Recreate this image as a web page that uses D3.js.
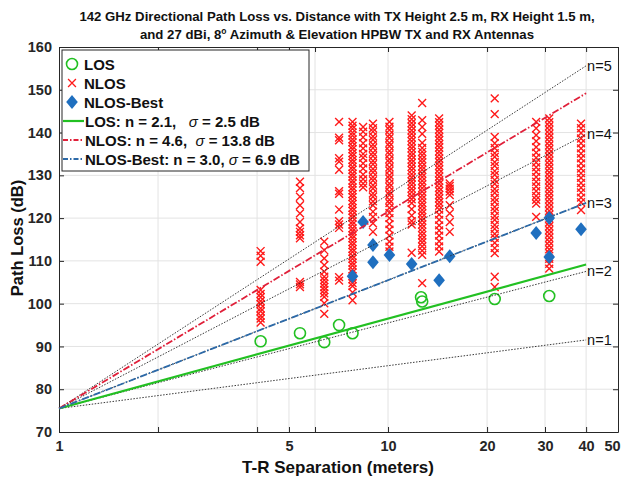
<!DOCTYPE html>
<html>
<head>
<meta charset="utf-8">
<script src="https://cdn.jsdelivr.net/npm/d3@7"></script>
<style>
  html, body { margin: 0; padding: 0; background: #fff; }
  svg { display: block; font-family: "Liberation Sans", Arial, sans-serif; }
</style>
</head>
<body>
<svg id="chart" width="624" height="478"></svg>
<script>
// ---------------- DATA ----------------
const titleLines = [
  "142 GHz Directional Path Loss vs. Distance with TX Height 2.5 m, RX Height 1.5 m,",
  "and 27 dBi, 8° Azimuth & Elevation HPBW TX and RX Antennas"
];
const xLabel = "T-R Separation (meters)";
const yLabel = "Path Loss (dB)";

const xTickValues = [1, 2, 4, 5, 6, 10, 20, 30, 40, 50];
const xTickLabels = ["1", "", "", "5", "", "10", "20", "30", "40", "50"];
const yTickValues = [70, 80, 90, 100, 110, 120, 130, 140, 150, 160];

const fspl1m = 75.5;            // free-space path loss at 1 m (dB)
const refExponents = [1, 2, 3, 4, 5];
const refLabels = ["n=1", "n=2", "n=3", "n=4", "n=5"];
const fitRange = [1, 40];

const losDist = [4.1, 5.4, 6.4, 7.1, 7.8, 12.6, 12.7, 21.1, 30.9];
const losPL   = [91.2, 93.1, 91.0, 95.0, 93.1, 101.5, 100.5, 101.1, 101.8];

const bestDist = [7.8, 8.4, 9.0, 9.0, 10.1, 11.8, 14.3, 15.4, 28.2, 30.9, 30.9, 38.6];
const bestPL   = [106.4, 119.1, 113.7, 109.7, 111.4, 109.3, 105.5, 111.1, 116.5, 120.0, 110.9, 117.4];

const nlosDist = [4.1, 5.4, 6.4, 7.1, 7.8, 8.4, 9.0, 10.1, 11.8, 12.7, 14.3, 15.4, 21.1, 28.2, 30.9, 38.6];
const nlosPL = [
  [112.3, 111.2, 109.8, 103.2, 102.3, 101.5, 100.6, 99.9, 98.9, 98.2, 97.2, 96.5, 95.6],
  [128.5, 127.0, 125.0, 123.0, 121.1, 119.1, 117.6, 116.8, 116.0, 115.3, 105.1, 104.5, 103.9],
  [114.5, 112.5, 110.6, 109.0, 107.5, 106.3, 105.5, 104.7, 103.9, 103.2, 102.4, 101.6, 100.1, 97.6],
  [142.5, 138.8, 138.2, 134.0, 133.2, 131.3, 126.3, 125.7, 122.0, 119.3, 118.5, 117.7, 106.2, 105.4],
  [142.5, 141.6, 140.9, 140.0, 139.3, 138.4, 137.7, 136.8, 136.1, 135.2, 134.5, 133.6, 132.9, 132.0,
   131.3, 130.4, 129.7, 128.8, 128.1, 127.2, 126.5, 125.6, 124.9, 124.0, 123.3, 122.4, 121.7, 120.8,
   120.1, 119.2, 118.5, 117.6, 116.9, 116.0, 115.3, 114.4, 113.7, 112.8, 112.1, 111.2, 110.5, 109.6,
   108.9, 108.0, 107.3, 106.4, 105.7, 104.8, 104.1, 102.6, 100.8],
  [141.3, 140.2, 138.9, 137.5, 136.3, 135.0, 134.1, 132.8, 131.6, 130.2, 129.1, 128.1, 127.2],
  [142.1, 141.0, 140.2, 139.1, 138.3, 137.2, 136.4, 135.3, 134.5, 133.4, 132.6, 131.5, 130.7, 129.6,
   128.8, 127.7, 126.9, 125.8, 125.0, 123.9, 123.0, 121.5, 120.3, 118.8, 116.8],
  [142.5, 141.4, 140.6, 139.5, 138.7, 137.6, 136.8, 135.7, 134.9, 133.8, 133.0, 131.9, 131.1, 130.0,
   129.2, 128.1, 127.3, 126.2, 125.4, 124.3, 123.5, 122.4, 121.2, 120.0, 118.6, 117.3, 115.9, 114.5,
   113.3, 112.2],
  [144.0, 143.1, 142.2, 141.4, 140.5, 139.7, 138.8, 138.0, 137.1, 136.3, 135.4, 134.6, 133.7, 132.9,
   132.0, 131.2, 130.3, 129.5, 128.6, 127.8, 126.9, 126.1, 125.2, 124.4, 123.5, 122.1, 120.6, 119.3,
   118.5, 111.9],
  [146.9, 142.9, 141.3, 139.7, 137.6, 136.4, 135.5, 134.7, 133.8, 133.0, 132.1, 131.3, 130.4, 129.6,
   128.7, 127.9, 127.0, 126.2, 125.3, 124.5, 123.6, 122.8, 121.9, 121.1, 120.2, 119.4, 118.5, 117.7,
   116.8, 116.0, 115.1, 114.3, 113.4, 112.4, 111.4, 104.8],
  [143.3, 142.4, 141.6, 140.7, 139.9, 139.0, 138.2, 137.3, 136.5, 135.6, 134.8, 133.9, 133.1, 132.2,
   131.4, 130.5, 129.7, 128.8, 128.0, 127.1, 126.3, 125.4, 124.6, 123.7, 122.9, 122.0, 120.8, 119.6,
   118.3, 117.1, 115.9, 114.6, 113.4, 112.2],
  [128.1, 127.5, 126.9, 126.2, 125.4, 123.0, 121.1, 119.1, 116.8],
  [148.0, 144.3, 139.0, 137.5, 136.4, 135.2, 134.3, 133.1, 132.2, 131.0, 130.1, 128.9, 128.0, 126.8,
   125.9, 124.7, 123.8, 122.6, 121.7, 120.5, 119.6, 118.4, 117.5, 116.3, 115.4, 114.2, 113.0, 111.8,
   106.3, 103.9],
  [142.5, 141.0, 139.4, 138.0, 136.6, 135.3, 134.1, 133.0, 131.9, 130.8, 129.6, 128.5, 127.4, 126.3,
   125.2, 124.3, 123.4, 120.3],
  [143.3, 142.4, 141.5, 140.6, 139.7, 138.8, 137.9, 137.0, 136.1, 135.2, 134.3, 133.4, 132.5, 131.6,
   130.7, 129.8, 128.9, 128.0, 127.1, 126.2, 125.3, 124.4, 123.5, 122.6, 121.7, 120.8, 119.9, 119.0,
   118.1, 117.2, 116.3, 115.4, 114.5, 113.6, 112.7, 111.8, 110.5, 109.3, 108.2],
  [142.1, 141.0, 139.9, 138.6, 137.5, 136.3, 135.1, 134.0, 132.8, 131.6, 130.5, 129.4, 128.2, 127.1,
   126.0, 124.8, 123.7, 121.9]
];

const fitNames = ["LOS", "NLOS", "NLOS-Best"];
const fitN     = [2.1, 4.6, 3.0];
const fitSigma = [2.5, 13.8, 6.9];

// ---------------- CHART ----------------
const svg = d3.select("#chart");
const X0 = 59, X1 = 618, Y0 = 47, Y1 = 432;
const x = d3.scaleLog().domain([1, 50]).range([X0, X1]);
const y = d3.scaleLinear().domain([70, 160]).range([Y1, Y0]);

const colLOS = "#22c022", colNLOS = "#ff1a1a", colBest = "#1f6fbf";
const colFitNLOS = "#e0203a", colFitBest = "#2d6aa8";

// title
svg.append("g").selectAll("text").data(titleLines).join("text")
  .attr("x", 337).attr("y", (d, i) => 21 + i * 18)
  .attr("text-anchor", "middle")
  .attr("font-size", 13.2).attr("font-weight", "bold").attr("fill", "#111")
  .each(function (d, i) {
    const t = d3.select(this);
    if (i === 1) {
      t.append("tspan").text("and 27 dBi, 8");
      t.append("tspan").attr("font-size", 8.5).attr("dy", -5).text("o");
      t.append("tspan").attr("dy", 5).text(" Azimuth & Elevation HPBW TX and RX Antennas");
    } else t.text(d);
  });

// grid
const grid = svg.append("g").attr("stroke", "#e3e3e3").attr("stroke-width", 1);
grid.selectAll("line.v").data(xTickValues.filter(v => v > 1 && v < 50)).join("line")
  .attr("x1", d => x(d)).attr("x2", d => x(d)).attr("y1", Y0).attr("y2", Y1);
grid.selectAll("line.h").data(yTickValues.filter(v => v > 70 && v < 160)).join("line")
  .attr("x1", X0).attr("x2", X1).attr("y1", d => y(d)).attr("y2", d => y(d));

// axes
const xAxis = d3.axisBottom(x).tickValues(xTickValues)
  .tickFormat((d, i) => xTickLabels[i]).tickSizeInner(-5).tickSizeOuter(0).tickPadding(9);
const gx = svg.append("g").attr("transform", `translate(0,${Y1})`).call(xAxis);
gx.selectAll(".tick").filter(d => d === 50).select("text").attr("dx", -6);
const xTop = d3.axisTop(x).tickValues(xTickValues).tickFormat("").tickSizeInner(-5).tickSizeOuter(0);
svg.append("g").attr("transform", `translate(0,${Y0})`).call(xTop);
const yAxis = d3.axisLeft(y).tickValues(yTickValues).tickSizeInner(-5).tickSizeOuter(0).tickPadding(7);
const gy = svg.append("g").attr("transform", `translate(${X0},0)`).call(yAxis);
const yRight = d3.axisRight(y).tickValues(yTickValues).tickFormat("").tickSizeInner(-5).tickSizeOuter(0);
svg.append("g").attr("transform", `translate(${X1},0)`).call(yRight);
svg.selectAll(".domain").attr("stroke", "#262626");
svg.selectAll(".tick line").attr("stroke", "#262626");
svg.selectAll(".tick text").attr("font-size", 14.5).attr("font-weight", "bold")
  .attr("fill", "#262626").attr("font-family", "Liberation Sans, Arial, sans-serif");

// axis labels
svg.append("text").attr("x", 338).attr("y", 473).attr("text-anchor", "middle")
  .attr("font-size", 17).attr("font-weight", "bold").attr("fill", "#111").text(xLabel);
svg.append("text").attr("transform", "translate(23,238) rotate(-90)").attr("text-anchor", "middle")
  .attr("font-size", 16.5).attr("font-weight", "bold").attr("fill", "#111").text(yLabel);

const plot = svg.append("g");

// NLOS crosses
const xSym = d3.symbol().type(d3.symbolTimes).size(42);
const nlosPts = nlosDist.flatMap((d, i) => nlosPL[i].map(v => [d, v]));
plot.append("g").selectAll("path").data(nlosPts).join("path")
  .attr("d", xSym).attr("transform", p => `translate(${x(p[0])},${y(p[1])})`)
  .attr("fill", "none").attr("stroke", colNLOS).attr("stroke-width", 1.4);

// LOS circles
plot.append("g").selectAll("circle").data(losDist.map((d, i) => [d, losPL[i]])).join("circle")
  .attr("cx", p => x(p[0])).attr("cy", p => y(p[1])).attr("r", 5.5)
  .attr("fill", "none").attr("stroke", colLOS).attr("stroke-width", 1.6);

// NLOS-Best diamonds
const diamond = "M0,-7L5.8,0L0,7L-5.8,0Z";
plot.append("g").selectAll("path").data(bestDist.map((d, i) => [d, bestPL[i]])).join("path")
  .attr("d", diamond).attr("transform", p => `translate(${x(p[0])},${y(p[1])})`)
  .attr("fill", colBest);

// fit lines
const lineGen = n => d3.line()(fitRange.map(d => [x(d), y(fspl1m + 10 * n * Math.log10(d))]));
const fitStyles = [
  { color: colLOS, width: 2.2, dash: null },
  { color: colFitNLOS, width: 1.8, dash: "7,2,1.5,2" },
  { color: colFitBest, width: 1.8, dash: "7,2,1.5,2" }
];
// reference lines
plot.append("g").selectAll("path").data(refExponents).join("path")
  .attr("d", n => lineGen(n)).attr("fill", "none")
  .attr("stroke", "#222").attr("stroke-width", 0.9).attr("stroke-dasharray", "1.5,1.5");
plot.append("g").selectAll("path").data(fitN).join("path")
  .attr("d", n => lineGen(n)).attr("fill", "none")
  .attr("stroke", (n, i) => fitStyles[i].color).attr("stroke-width", (n, i) => fitStyles[i].width)
  .attr("stroke-dasharray", (n, i) => fitStyles[i].dash);
plot.append("g").selectAll("text").data(refExponents).join("text")
  .attr("x", x(fitRange[1]) + 1).attr("y", n => y(fspl1m + 10 * n * Math.log10(fitRange[1])) + 5)
  .attr("font-size", 14.5).attr("fill", "#111").text((n, i) => refLabels[i]);

// legend
const lg = svg.append("g");
lg.append("rect").attr("x", 62).attr("y", 50).attr("width", 247).attr("height", 121)
  .attr("fill", "#fff").attr("stroke", "#262626").attr("stroke-width", 1);
const rowY = [64, 83, 102, 121, 140, 159];
lg.append("circle").attr("cx", 72).attr("cy", rowY[0]).attr("r", 5.5)
  .attr("fill", "none").attr("stroke", colLOS).attr("stroke-width", 1.6);
lg.append("path").attr("d", xSym).attr("transform", `translate(72,${rowY[1]})`)
  .attr("fill", "none").attr("stroke", colNLOS).attr("stroke-width", 1.3);
lg.append("path").attr("d", diamond).attr("transform", `translate(72,${rowY[2]})`).attr("fill", colBest);
const markerNames = ["LOS", "NLOS", "NLOS-Best"];
lg.selectAll("text.m").data(markerNames).join("text")
  .attr("x", 84).attr("y", (d, i) => rowY[i] + 5.5)
  .attr("font-size", 15).attr("font-weight", "bold").attr("fill", "#111").text(d => d);
fitNames.forEach((name, i) => {
  const yy = rowY[3 + i];
  lg.append("line").attr("x1", 63).attr("x2", 84).attr("y1", yy).attr("y2", yy)
    .attr("stroke", fitStyles[i].color).attr("stroke-width", fitStyles[i].width)
    .attr("stroke-dasharray", fitStyles[i].dash ? "5,2,1.5,2" : null);
  const t = lg.append("text").attr("x", 85).attr("y", yy + 5.5)
    .attr("font-size", 15).attr("font-weight", "bold").attr("fill", "#111")
    .attr("xml:space", "preserve");
  t.append("tspan").text(`${name}: n = ${fitN[i].toFixed(1)},${i === 0 ? "   " : i === 1 ? "  " : " "}`);
  t.append("tspan").attr("font-style", "italic").attr("font-weight", "normal").text("σ");
  t.append("tspan").text(` = ${fitSigma[i].toFixed(1)} dB`);
});
</script>
</body>
</html>
